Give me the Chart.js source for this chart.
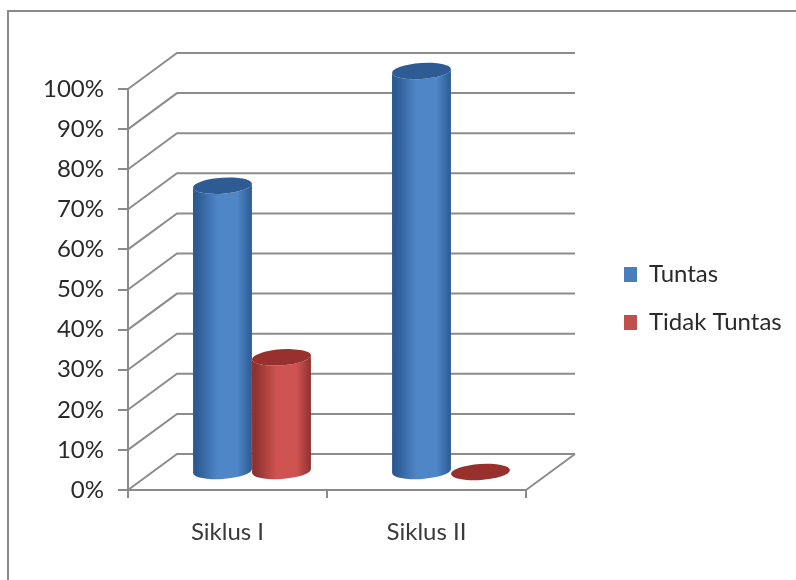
<!DOCTYPE html>
<html><head><meta charset="utf-8">
<style>
html,body{margin:0;padding:0;background:#fff;width:796px;height:580px;overflow:hidden}
#wrap{position:absolute;left:0;top:0;width:796px;height:580px}
canvas{filter:blur(0.6px)}
</style>
<script src="https://cdn.jsdelivr.net/npm/chart.js@4/dist/chart.umd.js"></script>
</head><body><div id="wrap"><canvas id="c" width="796" height="580"></canvas></div>
<script>
const categories = ['Siklus I', 'Siklus II'];
const tuntas = [71.4, 100];
const tidakTuntas = [28.6, 0];
const seriesNames = ['Tuntas', 'Tidak Tuntas'];
const legendColors = ['#4a7ebb', '#c0504d'];
const bodyEdge = ['#2c5a93', '#8f3230'];
const bodyMid = ['#4f86c8', '#cf5350'];
const topColors = ['#2f5b94', '#98302e'];

const GRID = '#8c8c8c', DX = 49, DY = -36, TILT = -0.07, RY = 8;

const depthPlugin = {
  id: 'depth',
  afterLayout(chart) {
    chart.legend.top -= 21;
    chart.legend.bottom -= 21;
  },
  beforeDraw(chart) {
    const ctx = chart.ctx;
    ctx.save();
    ctx.strokeStyle = '#8a8a8a'; ctx.lineWidth = 2;
    ctx.beginPath(); ctx.moveTo(8, 580); ctx.lineTo(8, 11); ctx.lineTo(796, 11); ctx.stroke();
    ctx.restore();
  },
  beforeDatasetsDraw(chart) {
    const {ctx, scales:{y}, chartArea:{left, right, bottom}} = chart;
    ctx.save();
    ctx.strokeStyle = GRID; ctx.lineWidth = 2;
    y.ticks.forEach(t => {
      const p = y.getPixelForValue(t.value);
      ctx.beginPath();
      ctx.moveTo(left, p); ctx.lineTo(left + DX, p + DY); ctx.lineTo(right + DX, p + DY);
      ctx.stroke();
    });
    ctx.beginPath();
    ctx.moveTo(right, bottom); ctx.lineTo(right + DX, bottom + DY);
    ctx.stroke();
    ctx.restore();
  },
  beforeDatasetDraw() { return false; },
  afterDatasetsDraw(chart) {
    const ctx = chart.ctx;
    chart.data.datasets.forEach((ds, di) => {
      chart.getDatasetMeta(di).data.forEach(bar => {
        const cx = bar.x + DX / 2, rx = bar.width / 2;
        const topY = bar.y + DY / 2, baseY = bar.base + DY / 2;
        ctx.save();
        if (baseY - topY > 1) {
          const g = ctx.createLinearGradient(cx - rx, 0, cx + rx, 0);
          g.addColorStop(0, bodyEdge[di]);
          g.addColorStop(0.06, bodyEdge[di]);
          g.addColorStop(0.42, bodyMid[di]);
          g.addColorStop(0.75, bodyMid[di]);
          g.addColorStop(1, bodyEdge[di]);
          ctx.fillStyle = g;
          ctx.beginPath();
          ctx.ellipse(cx, baseY, rx, RY, TILT, 0, Math.PI);
          ctx.lineTo(cx - rx, topY);
          ctx.ellipse(cx, topY, rx, RY, TILT, Math.PI, 0, true);
          ctx.closePath();
          ctx.fill();
        }
        ctx.fillStyle = topColors[di];
        ctx.beginPath();
        ctx.ellipse(cx, topY, rx, RY, TILT, 0, Math.PI * 2);
        ctx.fill();
        ctx.restore();
      });
    });
  }
};

new Chart(document.getElementById('c'), {
  type: 'bar',
  data: {
    labels: categories,
    datasets: [
      {label: seriesNames[0], data: tuntas, backgroundColor: legendColors[0], borderWidth: 0},
      {label: seriesNames[1], data: tidakTuntas, backgroundColor: legendColors[1], borderWidth: 0}
    ]
  },
  options: {
    responsive: false, animation: false,
    categoryPercentage: 0.593, barPercentage: 1,
    layout: {padding: {left: 20, top: 89, right: 6, bottom: 30}},
    plugins: {
      tooltip: {enabled: false},
      legend: {
        position: 'right', maxWidth: 190,
        labels: {boxWidth: 13, boxHeight: 15, padding: 24, color: '#2a2a2a',
                 font: {family: 'Lato', size: 24}}
      }
    },
    scales: {
      x: {
        grid: {drawOnChartArea: false, color: '#8a8a8a', lineWidth: 2, tickLength: 8},
        border: {color: '#8a8a8a', width: 2},
        ticks: {color: '#3a3a3a', font: {family: 'Lato', size: 24}, padding: 20, maxRotation: 0},
        afterFit(s) { s.height = 60; }
      },
      y: {
        min: 0, max: 100,
        grid: {drawOnChartArea: false, color: '#8a8a8a', lineWidth: 2, tickLength: 10},
        border: {color: '#8a8a8a', width: 2},
        ticks: {stepSize: 10, color: '#2a2a2a', font: {family: 'Lato', size: 24}, padding: 14,
                callback: v => v + '%'},
        afterFit(s) { s.width = 108; }
      },
      spacer: {
        position: 'right', display: true,
        grid: {display: false}, border: {display: false}, ticks: {display: false},
        afterFit(s) { s.width = 74; }
      }
    }
  },
  plugins: [depthPlugin]
});
</script></body></html>
